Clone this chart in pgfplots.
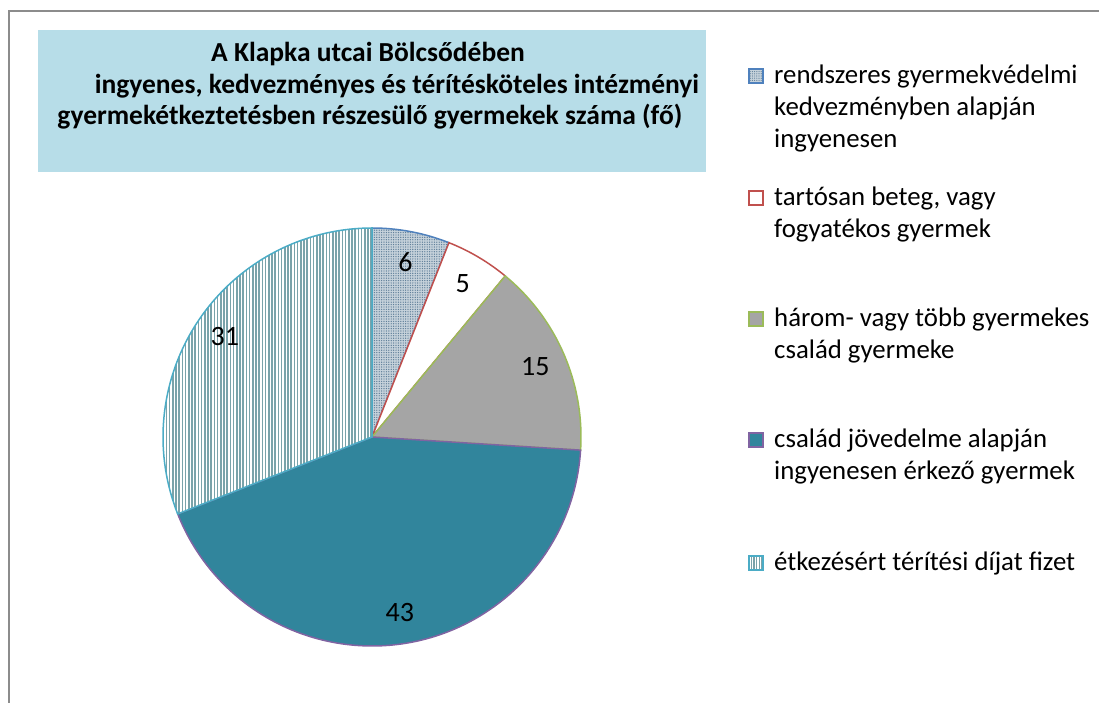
\documentclass[border=0pt]{standalone}
\usepackage{fontspec}
\setmainfont{Carlito}
\usepackage{pgfplots}
\pgfplotsset{compat=1.18}
\usepackage{pgfplotstable}
\usetikzlibrary{patterns.meta}

\definecolor{cBlue}{HTML}{4F81BD}
\definecolor{cRed}{HTML}{C0504D}
\definecolor{cGreen}{HTML}{9BBB59}
\definecolor{cPurple}{HTML}{8064A2}
\definecolor{cAqua}{HTML}{4BACC6}
\definecolor{cTeal}{HTML}{31859C}
\definecolor{cGray}{HTML}{A5A5A5}
\definecolor{titlebg}{HTML}{B7DDE8}
\definecolor{dotcol}{HTML}{5F7F99}
\definecolor{dotbg}{HTML}{C6D2DB}
\definecolor{vlinecol}{HTML}{7AA3AA}
\definecolor{framecol}{HTML}{8C8C8C}

\pgfplotstableread{
value
6
5
15
43
31
}\piedata
\pgfplotstablegetelem{0}{value}\of\piedata\let\vA\pgfplotsretval
\pgfplotstablegetelem{1}{value}\of\piedata\let\vB\pgfplotsretval
\pgfplotstablegetelem{2}{value}\of\piedata\let\vC\pgfplotsretval
\pgfplotstablegetelem{3}{value}\of\piedata\let\vD\pgfplotsretval
\pgfplotstablegetelem{4}{value}\of\piedata\let\vE\pgfplotsretval
\pgfmathsetmacro\tot{\vA+\vB+\vC+\vD+\vE}
\pgfmathsetmacro\aA{90}
\pgfmathsetmacro\aB{\aA-360*\vA/\tot}
\pgfmathsetmacro\aC{\aB-360*\vB/\tot}
\pgfmathsetmacro\aD{\aC-360*\vC/\tot}
\pgfmathsetmacro\aE{\aD-360*\vD/\tot}
\pgfmathsetmacro\aF{\aE-360*\vE/\tot}
\pgfmathsetmacro\mA{(\aA+\aB)/2}
\pgfmathsetmacro\mB{(\aB+\aC)/2}
\pgfmathsetmacro\mC{(\aC+\aD)/2}
\pgfmathsetmacro\mD{(\aD+\aE)/2}
\pgfmathsetmacro\mE{(\aE+\aF)/2}

\newcommand\wedgepath[3]{% start angle, end angle, options
  \path[#3] (axis cs:372,266) -- ++(#1:209bp) arc[start angle=#1, end angle=#2, radius=209bp] -- cycle;}
\newcommand\lbl[2]{\path (axis cs:372,266) ++(#1:178bp) node[font=\fontsize{28bp}{32bp}\selectfont, inner sep=0pt] {#2};}
% legend key at first-line baseline y
\newcommand\key[2]{\path[#2] (axis cs:749,#1) ++(0bp,1bp) rectangle ++(14bp,14bp);}
\newcommand\lline[2]{\node[anchor=base west, inner sep=0pt, font=\fontsize{26.8bp}{32bp}\selectfont] at (axis cs:774,#1) {#2};}
\newcommand\tline[3]{\node[anchor=base, inner sep=0pt, font=\bfseries\fontsize{27.5bp}{32bp}\selectfont] at (axis cs:#1,#2) {#3};}

\begin{document}
\begin{tikzpicture}
\begin{axis}[
  at={(0,0)}, anchor=south west,
  scale only axis, width=1099bp, height=703bp,
  xmin=0, xmax=1099, ymin=0, ymax=703,
  hide axis, clip=false,
]
% frame
\draw[framecol, line width=2bp] (axis cs:1099,692) -- (axis cs:8.5,692) -- (axis cs:8.5,0);
% title box
\fill[titlebg] (axis cs:38,531) rectangle (axis cs:706,673);
\tline{368}{641}{A Klapka utcai Bölcsődében}
\tline{397}{609}{ingyenes, kedvezményes és térítésköteles intézményi}
\tline{370}{578}{gyermekétkeztetésben részesülő gyermekek száma (fő)}

% slices
\wedgepath{\aA}{\aB}{fill=dotbg}
\wedgepath{\aA}{\aB}{pattern={Dots[distance=2.4bp, radius=0.7bp]}, pattern color=dotcol}
\wedgepath{\aA}{\aB}{draw=cBlue, line width=1.5bp}
\wedgepath{\aB}{\aC}{fill=white, draw=cRed, line width=1.5bp}
\wedgepath{\aC}{\aD}{fill=cGray, draw=cGreen, line width=1.5bp}
\wedgepath{\aD}{\aE}{fill=cTeal, draw=cPurple, line width=1.5bp}
\wedgepath{\aE}{\aF}{fill=white}
\wedgepath{\aE}{\aF}{pattern={Lines[angle=90, distance=3.2bp, line width=1.5bp]}, pattern color=vlinecol}
\wedgepath{\aE}{\aF}{draw=cAqua, line width=1.5bp}

\lbl{\mA}{\vA}
\lbl{\mB}{\vB}
\lbl{\mC}{\vC}
\lbl{\mD}{\vD}
\lbl{\mE}{\vE}

% legend
\key{619}{fill=dotbg}
\key{619}{pattern={Dots[distance=2.2bp, radius=0.6bp]}, pattern color=dotcol}
\key{619}{draw=cBlue, line width=1.5bp}
\lline{619}{rendszeres gyermekvédelmi}
\lline{587}{kedvezményben alapján}
\lline{555}{ingyenesen}

\key{497}{fill=white, draw=cRed, line width=1.5bp}
\lline{497}{tartósan beteg, vagy}
\lline{465}{fogyatékos gyermek}

\key{376}{fill=cGray, draw=cGreen, line width=1.5bp}
\lline{376}{három- vagy több gyermekes}
\lline{344}{család gyermeke}

\key{255}{fill=cTeal, draw=cPurple, line width=1.5bp}
\lline{255}{család jövedelme alapján}
\lline{223}{ingyenesen érkező gyermek}

\key{132}{fill=white}
\key{132}{pattern={Lines[angle=90, distance=2.6bp, line width=1.2bp]}, pattern color=vlinecol}
\key{132}{draw=cAqua, line width=1.5bp}
\lline{132}{étkezésért térítési díjat fizet}
\end{axis}
\pgfresetboundingbox
\useasboundingbox (0,0) rectangle (1099bp,703bp);
\end{tikzpicture}
\end{document}
